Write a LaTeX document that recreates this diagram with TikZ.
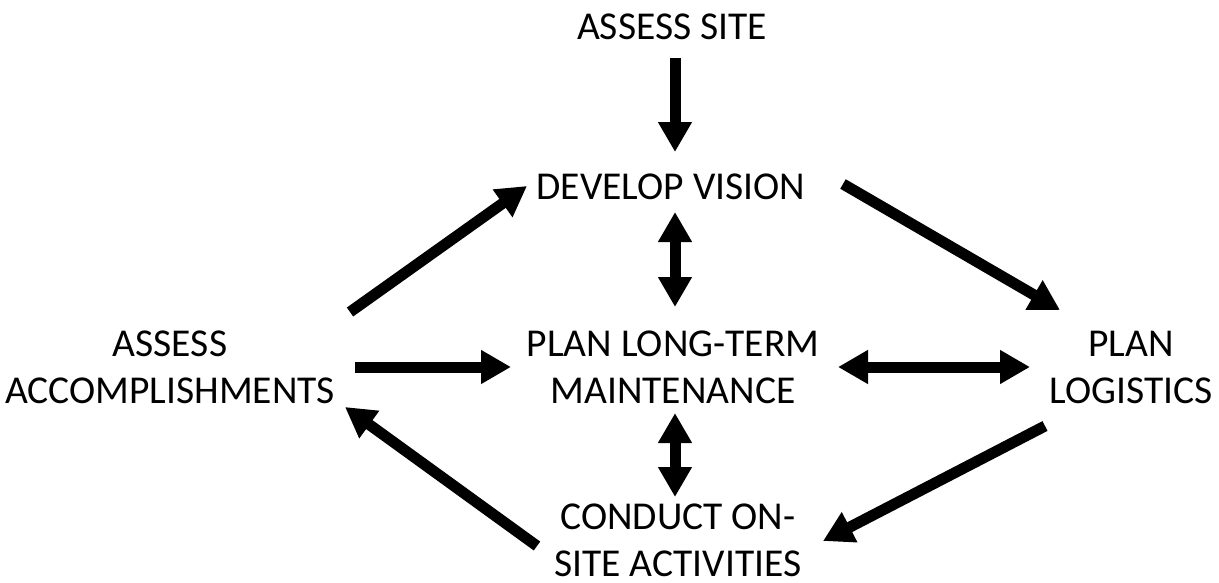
\documentclass[tikz,border=0pt]{standalone}
\usepackage{fontspec}
\setmainfont{Carlito}
\usetikzlibrary{arrows.meta}
\begin{document}
\begin{tikzpicture}[x=1pt,y=-1pt,
  lbl/.style={align=center,inner sep=0pt,font=\fontsize{39.5}{47}\selectfont},
  arr/.style={line width=11pt,-{Triangle[length=30pt,width=32pt]}},
  darr/.style={line width=11pt,{Triangle[length=30pt,width=32pt]}-{Triangle[length=30pt,width=32pt]}}]
\useasboundingbox (0,0) rectangle (1219,582);
\node[lbl] (site) at (672,27) {ASSESS SITE};
\node[lbl] (vision) at (671,187) {DEVELOP VISION};
\node[lbl] (ltm) at (673,367) {PLAN LONG-TERM\\MAINTENANCE};
\node[lbl] (acc) at (170,367) {ASSESS\\ACCOMPLISHMENTS};
\node[lbl] (log) at (1131,367) {PLAN\\LOGISTICS};
\node[lbl] (cond) at (678,540) {CONDUCT ON-\\SITE ACTIVITIES};
\coordinate (a1) at (675,58);   \coordinate (b1) at (675,152);
\coordinate (a2) at (350,312);  \coordinate (b2) at (527,186);
\coordinate (a3) at (843,184);  \coordinate (b3) at (1060,310);
\coordinate (a4) at (675,212);  \coordinate (b4) at (675,307);
\coordinate (a5) at (355,367);  \coordinate (b5) at (511,367);
\coordinate (a6) at (838,367);  \coordinate (b6) at (1030,367);
\coordinate (a7) at (675,413);  \coordinate (b7) at (675,497);
\coordinate (a8) at (1045,426); \coordinate (b8) at (823,541);
\coordinate (a9) at (537,546);  \coordinate (b9) at (345,407);
\draw[arr] (a1) -- (b1);
\draw[arr] (a2) -- (b2);
\draw[arr] (a3) -- (b3);
\draw[darr] (a4) -- (b4);
\draw[arr] (a5) -- (b5);
\draw[darr] (a6) -- (b6);
\draw[darr] (a7) -- (b7);
\draw[arr] (a8) -- (b8);
\draw[arr] (a9) -- (b9);
\end{tikzpicture}
\end{document}
